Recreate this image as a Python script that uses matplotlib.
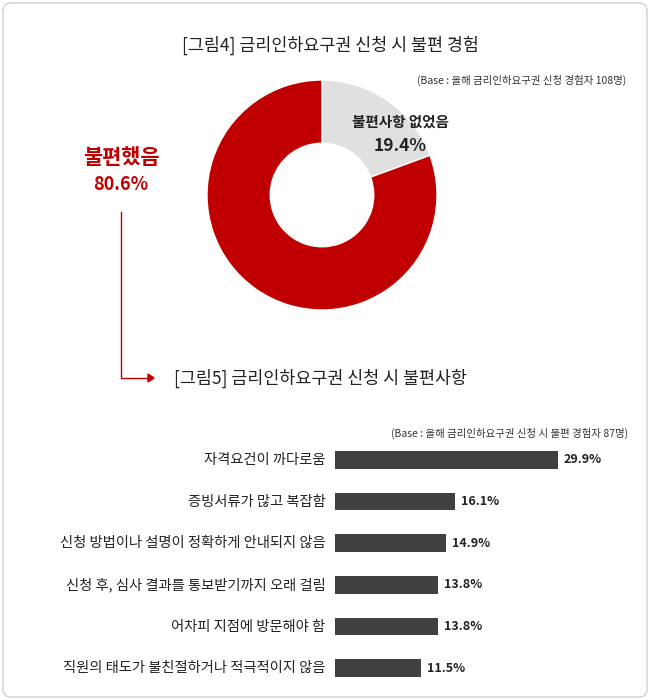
import matplotlib
matplotlib.use('Agg')
import matplotlib.pyplot as plt
from matplotlib.patches import FancyBboxPatch

plt.rcParams['font.family'] = ['Noto Sans CJK KR', 'DejaVu Sans']

pie_labels = ['불편했음', '불편사항 없었음']
pie_values = [80.6, 19.4]
pie_colors = ['#c00000', '#e0e0e0']

bar_labels = ['자격요건이 까다로움', '증빙서류가 많고 복잡함',
              '신청 방법이나 설명이 정확하게 안내되지 않음',
              '신청 후, 심사 결과를 통보받기까지 오래 걸림',
              '어차피 지점에 방문해야 함',
              '직원의 태도가 불친절하거나 적극적이지 않음']
bar_values = [29.9, 16.1, 14.9, 13.8, 13.8, 11.5]

W, H = 650, 700
fig = plt.figure(figsize=(6.5, 7), dpi=100)


def fx(x):
    return x / W


def fy(y):
    return 1 - y / H


# rounded frame
fig.patches.append(FancyBboxPatch((fx(3), fy(697)), fx(644), 694 / H,
                                  boxstyle='round,pad=0,rounding_size=0.012',
                                  transform=fig.transFigure, fill=False,
                                  edgecolor='#d0d0d0', linewidth=1))

fig.text(fx(330), fy(45), '[그림4] 금리인하요구권 신청 시 불편 경험',
         ha='center', va='center', fontsize=12.5, color='#222222')
fig.text(fx(626), fy(80), '(Base : 올해 금리인하요구권 신청 경험자 108명)',
         ha='right', va='center', fontsize=7.5, color='#333333')

# donut: grey slice first, clockwise from the top
ax = fig.add_axes([fx(207), fy(310), 230 / W, 230 / H])
ax.pie(pie_values[::-1], colors=pie_colors[::-1], startangle=90, counterclock=False,
       radius=1, wedgeprops=dict(width=0.55, edgecolor='white', linewidth=1))
ax.set_xlim(-1, 1)
ax.set_ylim(-1, 1)
ax.set_aspect('equal')
ax.axis('off')

fig.text(fx(400), fy(122), pie_labels[1], ha='center', va='center',
         fontsize=10.5, fontweight='bold', color='#222222')
fig.text(fx(400), fy(146), f'{pie_values[1]}%', ha='center', va='center',
         fontsize=12.5, fontweight='bold', color='#222222')
fig.text(fx(121), fy(157), pie_labels[0], ha='center', va='center',
         fontsize=15, fontweight='bold', color='#c00000')
fig.text(fx(121), fy(185), f'{pie_values[0]}%', ha='center', va='center',
         fontsize=13, fontweight='bold', color='#c00000')

# connector arrow
fig.add_artist(plt.Line2D([fx(121), fx(121), fx(148)], [fy(212), fy(378), fy(378)],
                          transform=fig.transFigure, color='#c00000', linewidth=1))
fig.add_artist(plt.Polygon([[fx(148), fy(374)], [fx(154), fy(378)], [fx(148), fy(382)]],
                           closed=True, transform=fig.transFigure, color='#c00000'))

fig.text(fx(320), fy(378), '[그림5] 금리인하요구권 신청 시 불편사항',
         ha='center', va='center', fontsize=12.5, color='#222222')
fig.text(fx(628), fy(433), '(Base : 올해 금리인하요구권 신청 시 불편 경험자 87명)',
         ha='right', va='center', fontsize=7.5, color='#333333')

# bars
bx = fig.add_axes([fx(335), fy(689), 298 / W, 250 / H])
ypos = list(range(len(bar_values)))
bx.barh(ypos, bar_values, height=0.43, color='#404040')
bx.set_xlim(0, 40)
bx.set_ylim(5.5, -0.5)
bx.axis('off')
for y, v, lab in zip(ypos, bar_values, bar_labels):
    bx.text(v + 0.8, y, f'{v}%', ha='left', va='center', fontsize=9,
            fontweight='bold', color='#222222')
    bx.text(-1.3, y, lab, ha='right', va='center', fontsize=10.3, color='#222222')

fig.savefig('out.png', dpi=100)
